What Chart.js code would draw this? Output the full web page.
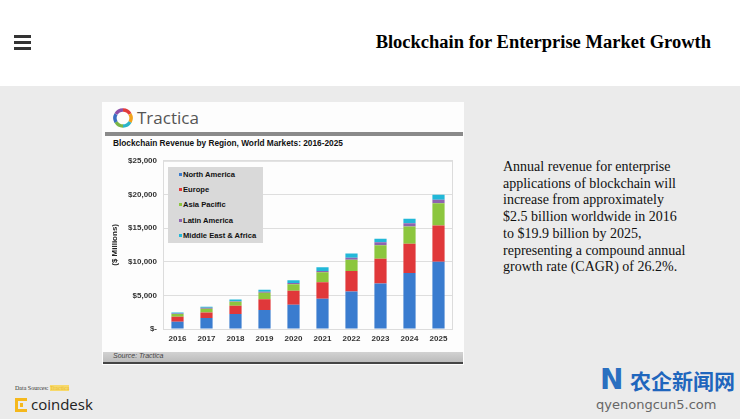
<!DOCTYPE html>
<html>
<head>
<meta charset="utf-8">
<script src="https://cdn.jsdelivr.net/npm/chart.js@4/dist/chart.umd.min.js"></script>
<style>
  body { margin: 0; width: 740px; height: 419px; background: #ebebeb; position: relative; overflow: hidden; font-family: "Liberation Sans", Arial, sans-serif; }
  .abs { position: absolute; white-space: nowrap; }
  #header { left: 0; top: 0; width: 740px; height: 86px; background: #fff; }
  .bar { left: 14px; width: 17px; height: 3px; background: #333; }
  #pageTitle { right: 29px; top: 32px; font: bold 18.5px "Liberation Serif", "Times New Roman", serif; color: #000; }
  #panel { left: 102px; top: 102px; width: 362px; height: 263px; background: #fdfdfd; }
  #brand { left: 137px; top: 106px; font: 17px "Open Sans", sans-serif; color: #555; }
  #rule { left: 105px; top: 132px; width: 358px; height: 4px; background: #8a8a8a; }
  #chartTitle { left: 113px; top: 138px; font: bold 8.3px "Liberation Sans", Arial, sans-serif; color: #111; }
  #wrap { left: 103px; top: 150px; width: 361px; height: 200px; }
  #legend { left: 168px; top: 167px; width: 95px; height: 76px; background: #d9d9d9; }
  .item { position: absolute; left: 11px; font: bold 7.6px "Liberation Sans", Arial, sans-serif; color: #111; white-space: nowrap; }
  .item i { display: inline-block; width: 3px; height: 3px; margin-right: 1px; vertical-align: 1px; }
  #source { left: 103px; top: 352px; width: 360px; height: 10px; background: linear-gradient(#d2d2d2, #bcbcbc); border-bottom: 2px solid #444; }
  #source span { position: absolute; left: 10px; top: 0px; font: italic 7px "Liberation Sans", Arial, sans-serif; color: #444; }
  #blurb { left: 503px; top: 159px; font: 14px "Liberation Serif", "Times New Roman", serif; line-height: 16.7px; color: #111; }
  #dataSrc { left: 15px; top: 385px; font: 6px "Liberation Serif", serif; color: #333; }
  #dataSrc b { font-weight: normal; background: #f7d96b; color: #e9b92b; }
  #coindesk { left: 31px; top: 394px; font: 15px "Open Sans", sans-serif; color: #222; }
  #wm1 { left: 600px; top: 363px; font: bold 28px "DejaVu Sans", sans-serif; color: #2a6fc0; }
  #wm2 { left: 630px; top: 365px; font: bold 21px "Noto Sans CJK SC", sans-serif; color: #1f66bd; }
  #wm3 { left: 596px; top: 397px; font: 13px "DejaVu Sans", sans-serif; color: #666; }
</style>
</head>
<body>
<div id="header" class="abs"></div>
<div class="abs bar" style="top:35px"></div>
<div class="abs bar" style="top:41px"></div>
<div class="abs bar" style="top:47px"></div>
<div id="pageTitle" class="abs">Blockchain for Enterprise Market Growth</div>

<div id="panel" class="abs"></div>
<svg class="abs" style="left:113px;top:108px" width="20" height="20" viewBox="0 0 20 20">
  <g fill="none" stroke-width="3.5">
    <path d="M10 2 A8 8 0 0 1 17 6" stroke="#e23b3b"/>
    <path d="M17 6 A8 8 0 0 1 17 14" stroke="#f2a21d"/>
    <path d="M17 14 A8 8 0 0 1 10 18" stroke="#2bb3c9"/>
    <path d="M10 18 A8 8 0 0 1 3 14" stroke="#7ab648"/>
    <path d="M3 14 A8 8 0 0 1 3 6" stroke="#3a6fc2"/>
    <path d="M3 6 A8 8 0 0 1 10 2" stroke="#8d4fa8"/>
  </g>
</svg>
<div id="brand" class="abs">Tractica</div>
<div id="rule" class="abs"></div>
<div id="chartTitle" class="abs">Blockchain Revenue by Region, World Markets: 2016-2025</div>
<div id="wrap" class="abs"><canvas id="chart"></canvas></div>
<div id="legend" class="abs"></div>
<div id="source" class="abs"><span>Source: Tractica</span></div>

<div id="blurb" class="abs">Annual revenue for enterprise<br>applications of blockchain will<br>increase from approximately<br>$2.5 billion worldwide in 2016<br>to $19.9 billion by 2025,<br>representing a compound annual<br>growth rate (CAGR) of 26.2%.</div>

<div id="dataSrc" class="abs">Data Sources: <b>Tractica</b></div>
<svg class="abs" style="left:15px;top:398px" width="13" height="14" viewBox="0 0 13 14">
  <rect x="0" y="0" width="3" height="14" fill="#f5b81c"/>
  <rect x="3" y="0" width="9" height="3" fill="#f5b81c"/>
  <rect x="3" y="11" width="9" height="3" fill="#f5b81c"/>
  <rect x="5" y="5" width="3" height="4" fill="#f5b81c"/>
</svg>
<div id="coindesk" class="abs">coindesk</div>

<div id="wm1" class="abs">N</div>
<div id="wm2" class="abs">农企新闻网</div>
<div id="wm3" class="abs">qyenongcun5.com</div>

<script>
const years = ['2016', '2017', '2018', '2019', '2020', '2021', '2022', '2023', '2024', '2025'];

// $ millions
const northAmerica = [1085, 1630, 2220, 2810, 3600, 4490, 5570, 6760, 8330, 10000];
const europe = [735, 840, 1230, 1630, 2070, 2460, 3060, 3700, 4340, 5400];
const asiaPacific = [400, 540, 590, 930, 990, 1480, 1670, 1980, 2570, 3300];
const latinAmerica = [100, 150, 100, 150, 190, 200, 300, 440, 490, 500];
const middleEastAfrica = [150, 140, 250, 300, 400, 540, 640, 540, 640, 750];

const regionNames = ['North America', 'Europe', 'Asia Pacific', 'Latin America', 'Middle East & Africa'];
const regionColors = ['#3a7ccf', '#e0383a', '#8cc63e', '#8e63b0', '#22b8d8'];
const yTicks = [0, 5000, 10000, 15000, 20000, 25000];

const series = [northAmerica, europe, asiaPacific, latinAmerica, middleEastAfrica];

// legend box sits inside the plot, built by hand
const legend = document.getElementById('legend');
regionNames.forEach((name, i) => {
    const row = document.createElement('div');
    row.className = 'item';
    row.style.top = (3 + i * 15.2) + 'px';
    row.innerHTML = '<i style="background:' + regionColors[i] + '"></i>' + name;
    legend.appendChild(row);
});

const frame = {
    id: 'frame',
    beforeDatasetsDraw(chart) {
        const a = chart.chartArea;
        const ctx = chart.ctx;
        ctx.save();
        ctx.strokeStyle = '#dcdcdc';
        ctx.lineWidth = 1;
        ctx.strokeRect(a.left + 0.5, a.top + 0.5, a.right - a.left - 1, a.bottom - a.top);
        ctx.restore();
    }
};

const tickFont = { family: '"Liberation Sans", Arial, sans-serif', size: 8, weight: 'bold' };

new Chart(document.getElementById('chart').getContext('2d'), {
    type: 'bar',
    data: {
        labels: years,
        datasets: series.map((data, i) => ({
            label: regionNames[i],
            data: data,
            backgroundColor: regionColors[i],
            borderWidth: 0,
            barPercentage: 0.42,
            categoryPercentage: 1
        }))
    },
    options: {
        responsive: true,
        maintainAspectRatio: false,
        animation: false,
        layout: { padding: { left: 0, right: 11, top: 10, bottom: 0 } },
        plugins: {
            legend: { display: false },
            tooltip: { enabled: false }
        },
        scales: {
            x: {
                stacked: true,
                grid: { display: false, drawTicks: false },
                border: { display: false },
                ticks: { color: '#333', font: tickFont, padding: 5, maxRotation: 0 },
                afterFit(scale) { scale.height = 21; }
            },
            y: {
                stacked: true,
                min: 0,
                max: 25000,
                afterBuildTicks(scale) { scale.ticks = yTicks.map(v => ({ value: v })); },
                grid: { color: '#dedede', drawTicks: false },
                border: { display: false },
                ticks: {
                    color: '#333',
                    font: tickFont,
                    padding: 6,
                    callback: v => v === 0 ? '$-' : '$' + v.toLocaleString('en-US')
                },
                title: {
                    display: true,
                    text: '($ Millions)',
                    color: '#222',
                    font: tickFont,
                    padding: { top: 7, bottom: 0 }
                },
                afterFit(scale) { scale.width = 60; }
            }
        }
    },
    plugins: [frame]
});
</script>
</body>
</html>
